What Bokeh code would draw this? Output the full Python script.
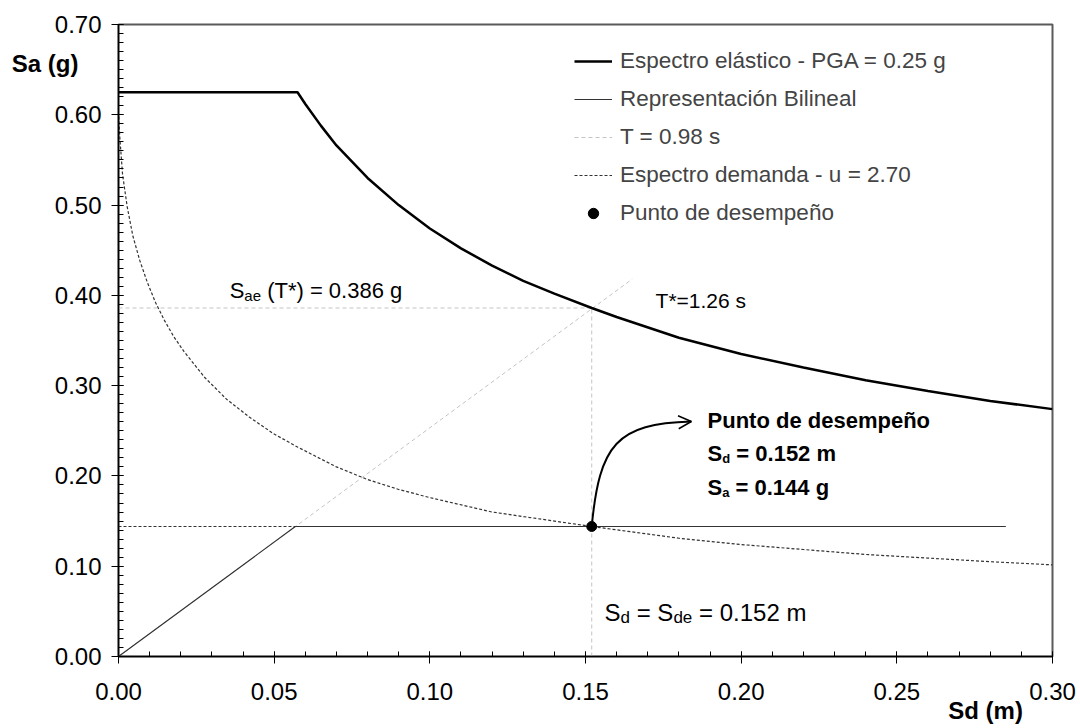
from bokeh.plotting import figure
from bokeh.models import (Range1d, FixedTicker, NumeralTickFormatter, Legend, LegendItem,
                          Label, Arrow, OpenHead, LinearAxis, CustomJSTickFormatter)
from bokeh.embed import file_html
from bokeh.resources import INLINE

FONT = "Liberation Sans"

# ---- data ----
sd_elastic = [0.0, 0.0575, 0.060, 0.065, 0.070, 0.080, 0.090, 0.100, 0.110, 0.120, 0.130,
              0.140, 0.152, 0.160, 0.180, 0.200, 0.220, 0.240, 0.260, 0.280, 0.300]
sa_elastic = [0.625, 0.625, 0.612, 0.588, 0.566, 0.530, 0.500, 0.474, 0.452, 0.433, 0.416,
              0.402, 0.386, 0.376, 0.353, 0.335, 0.320, 0.306, 0.294, 0.283, 0.274]

sd_demand = [0.0001, 0.0004, 0.0013, 0.0028, 0.0046, 0.0068, 0.0093, 0.0119, 0.0148, 0.0178,
             0.0210, 0.0277, 0.0347, 0.0421, 0.0497, 0.0575, 0.070, 0.080, 0.090, 0.100,
             0.120, 0.152, 0.180, 0.200, 0.220, 0.240, 0.260, 0.280, 0.300]
sa_demand = [0.598, 0.576, 0.534, 0.498, 0.466, 0.439, 0.414, 0.392, 0.372, 0.354,
             0.338, 0.309, 0.285, 0.265, 0.247, 0.232, 0.210, 0.196, 0.185, 0.176,
             0.160, 0.144, 0.131, 0.124, 0.1185, 0.113, 0.109, 0.105, 0.1015]

sd_bilinear = [0.0, 0.0568, 0.285]
sa_bilinear = [0.0, 0.144, 0.144]

sd_tstar = [0.0, 0.165]
sa_tstar = [0.0, 0.418]

sd_perf = [0.152]
sa_perf = [0.144]
sa_e_tstar = 0.386

x_ticks = [0.00, 0.05, 0.10, 0.15, 0.20, 0.25, 0.30]
y_ticks = [0.00, 0.10, 0.20, 0.30, 0.40, 0.50, 0.60, 0.70]
x_minor = [i / 100 for i in range(0, 31)]
y_minor = [i / 100 for i in range(0, 71)]

x_title = "Sd (m)"
y_title = "Sa (g)"
legend_labels = ["Espectro elástico - PGA = 0.25 g", "Representación Bilineal",
                 "T = 0.98 s", "Espectro demanda - u = 2.70", "Punto de desempeño"]

# ---- figure ----
p = figure(width=1076, height=726, x_range=Range1d(0, 0.30), y_range=Range1d(0, 0.70),
           output_backend="svg", toolbar_location=None,
           min_border_left=118, min_border_right=24, min_border_top=24, min_border_bottom=70)
p.xgrid.visible = False
p.ygrid.visible = False
p.outline_line_color = "#5a5a5a"
p.outline_line_width = 2
p.background_fill_color = "white"
p.border_fill_color = "white"

for ax, ticks, minor in ((p.xaxis[0], x_ticks, x_minor), (p.yaxis[0], y_ticks, y_minor)):
    ax.ticker = FixedTicker(ticks=ticks, minor_ticks=minor)
    ax.formatter = NumeralTickFormatter(format="0.00")
    ax.major_label_text_font = FONT
    ax.major_label_text_font_size = "24px"
    ax.major_label_text_color = "black"
    ax.axis_line_color = "black"
    ax.axis_line_width = 1.5
    ax.major_tick_line_color = "black"
    ax.minor_tick_line_color = "black"
    ax.major_tick_out = 7
    ax.major_tick_in = 5
    ax.minor_tick_out = 0
    ax.minor_tick_in = 5
p.xaxis[0].major_label_standoff = 19
p.yaxis[0].major_label_standoff = 10

# axis titles, drawn as label-only axes so they sit outside the frame
ya = LinearAxis(ticker=FixedTicker(ticks=[0.657], minor_ticks=[]),
                formatter=CustomJSTickFormatter(code=f"return '{y_title}'"),
                axis_line_color=None, major_tick_line_color=None, minor_tick_line_color=None,
                major_label_text_font=FONT, major_label_text_font_size="24px",
                major_label_text_font_style="bold", major_label_text_color="black",
                major_label_standoff=-27, major_tick_out=0, major_tick_in=0)
p.add_layout(ya, "left")
xa = LinearAxis(ticker=FixedTicker(ticks=[0.2785], minor_ticks=[]),
                formatter=CustomJSTickFormatter(code=f"return '{x_title}'"),
                axis_line_color=None, major_tick_line_color=None, minor_tick_line_color=None,
                major_label_text_font=FONT, major_label_text_font_size="24px",
                major_label_text_font_style="bold", major_label_text_color="black",
                major_label_standoff=-6, major_tick_out=0, major_tick_in=0)
p.add_layout(xa, "below")

light = "#c4c4c4"
# guide lines
p.line([0, sd_perf[0]], [sa_e_tstar, sa_e_tstar], line_color=light, line_width=1, line_dash="4 3")
p.line([sd_perf[0], sd_perf[0]], [0, sa_e_tstar], line_color=light, line_width=1, line_dash="4 3")
r_t = p.line(sd_tstar, sa_tstar, line_color=light, line_width=1, line_dash="4 3")
p.line([0, sd_bilinear[1]], [sa_bilinear[1], sa_bilinear[1]], line_color="#333333",
       line_width=1.2, line_dash="3 2")

r_dem = p.line(sd_demand, sa_demand, line_color="#333333", line_width=1.2, line_dash="3 2")
r_bil = p.line(sd_bilinear, sa_bilinear, line_color="#333333", line_width=1.2)
r_el = p.line(sd_elastic, sa_elastic, line_color="black", line_width=2.5)

# arrow from performance point to annotation
x0, y0 = sd_perf[0], sa_perf[0]
x1, y1 = 0.184, 0.2603
p.bezier(x0=[x0], y0=[y0], x1=[x1], y1=[y1], cx0=[x0 + 0.0025], cy0=[0.235],
         cx1=[0.160], cy1=[0.258], line_color="black", line_width=2)
p.add_layout(Arrow(end=OpenHead(size=13, line_width=1.5, line_color="black"),
                   x_start=x1 - 0.004, y_start=y1 - 0.0008, x_end=x1, y_end=y1,
                   line_width=1.5, line_color="black", line_alpha=0))

r_pt = p.scatter(sd_perf, sa_perf, size=10, color="black")

legend = Legend(items=[LegendItem(label=legend_labels[0], renderers=[r_el]),
                       LegendItem(label=legend_labels[1], renderers=[r_bil]),
                       LegendItem(label=legend_labels[2], renderers=[r_t]),
                       LegendItem(label=legend_labels[3], renderers=[r_dem]),
                       LegendItem(label=legend_labels[4], renderers=[r_pt])],
                location=(456, 430), label_text_font=FONT, label_text_font_size="22.5px",
                glyph_width=38, glyph_height=26, label_height=26, spacing=12,
                padding=0, margin=0, label_standoff=8,
                border_line_alpha=0, background_fill_alpha=0)
p.add_layout(legend)


def rich(x, y, pieces, style="normal"):
    dx = 0
    for text, size, dy, w in pieces:
        p.add_layout(Label(x=x, y=y, x_offset=dx, y_offset=dy, text=text,
                           text_font=FONT, text_font_size=f"{size}px", text_font_style=style,
                           text_baseline="alphabetic", text_align="left", text_color="black"))
        dx += w


UP = 0.0083
rich(0.0357, 0.3976 + UP, [("S", 22, 0, 14.7), ("ae", 15, -5, 22.8), ("(T*) = 0.386 g", 22, 0, 0)])
rich(0.1725, 0.3865 + UP, [("T*=1.26 s", 21, 0, 0)])
rich(0.1892, 0.2536 + UP, [("Punto de desempeño", 22, 0, 0)], style="bold")
rich(0.1892, 0.2170 + UP, [("S", 22, 0, 14.7), ("d", 13, -5, 14.1), ("= 0.152 m", 22, 0, 0)], style="bold")
rich(0.1892, 0.1794 + UP, [("S", 22, 0, 14.7), ("a", 13, -5, 13.3), ("= 0.144 g", 22, 0, 0)], style="bold")
rich(0.1561, 0.0432 + UP - 0.003, [("S", 24, 0, 16.0), ("d", 17, -5, 16.2), ("= S", 24, 0, 36.7),
                                   ("de", 17, -5, 25.6), ("= 0.152 m", 24, 0, 0)])

open("out.html", "w").write(file_html(p, INLINE))
